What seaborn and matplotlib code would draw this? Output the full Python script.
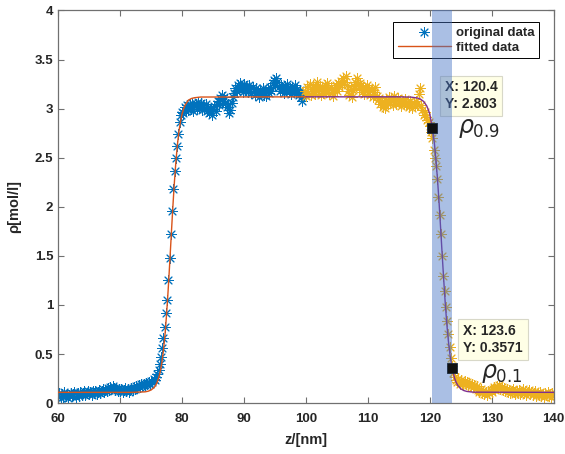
import matplotlib
matplotlib.use('Agg')
import matplotlib.pyplot as plt
import numpy as np
import pandas as pd
import seaborn as sns

# original data, left part (blue)
z_blue_a = np.linspace(60.0, 76.0, 81)
rho_blue_a = [0.07, 0.10, 0.05, 0.09, 0.06, 0.11, 0.07, 0.09, 0.05, 0.08,
              0.10, 0.07, 0.09, 0.11, 0.06, 0.09, 0.10, 0.07, 0.11, 0.08,
              0.10, 0.12, 0.08, 0.10, 0.12, 0.09, 0.11, 0.08, 0.12, 0.10,
              0.12, 0.09, 0.11, 0.13, 0.10, 0.12, 0.14, 0.11, 0.13, 0.12,
              0.15, 0.13, 0.16, 0.14, 0.17, 0.15, 0.13, 0.15, 0.12, 0.14,
              0.12, 0.14, 0.11, 0.13, 0.15, 0.12, 0.14, 0.11, 0.13, 0.15,
              0.13, 0.16, 0.14, 0.17, 0.15, 0.18, 0.16, 0.19, 0.17, 0.20,
              0.18, 0.21, 0.19, 0.22, 0.20, 0.23, 0.22, 0.25, 0.24, 0.27,
              0.30]
z_blue_b = np.linspace(76.2, 80.0, 20)
rho_blue_b = [0.34, 0.40, 0.47, 0.56, 0.66, 0.78, 0.92, 1.05, 1.25, 1.48,
              1.72, 1.96, 2.18, 2.36, 2.50, 2.62, 2.74, 2.86, 2.93, 2.97]
z_blue_c = np.linspace(80.2, 99.6, 98)
rho_blue_c = [2.96, 3.02, 2.98, 3.04, 2.99, 3.05, 3.00, 3.06, 2.98, 3.03,
              3.05, 3.00, 3.07, 3.02, 3.06, 2.99, 3.04, 3.01, 3.05, 2.98,
              3.02, 2.96, 2.99, 2.94, 3.00, 3.03, 2.98, 3.05, 3.08, 3.04,
              3.11, 3.14, 3.08, 3.12, 3.06, 3.02, 3.05, 2.96, 2.99, 3.06,
              3.12, 3.16, 3.21, 3.18, 3.24, 3.20, 3.26, 3.22, 3.17, 3.25,
              3.19, 3.23, 3.17, 3.24, 3.20, 3.16, 3.22, 3.18, 3.14, 3.21,
              3.16, 3.12, 3.19, 3.15, 3.21, 3.14, 3.18, 3.13, 3.20, 3.16,
              3.22, 3.18, 3.26, 3.29, 3.24, 3.31, 3.27, 3.22, 3.18, 3.24,
              3.20, 3.16, 3.23, 3.19, 3.25, 3.17, 3.21, 3.15, 3.22, 3.18,
              3.24, 3.16, 3.20, 3.14, 3.19, 3.12, 3.08, 3.15]

# original data, right part (orange)
z_orange_a = np.linspace(99.8, 119.6, 100)
rho_orange_a = [3.18, 3.13, 3.22, 3.16, 3.25, 3.14, 3.20, 3.24, 3.15, 3.21,
                3.27, 3.18, 3.23, 3.14, 3.20, 3.16, 3.24, 3.19, 3.26, 3.21,
                3.15, 3.22, 3.17, 3.13, 3.20, 3.24, 3.18, 3.26, 3.22, 3.28,
                3.25, 3.31, 3.27, 3.33, 3.24, 3.18, 3.14, 3.20, 3.12, 3.19,
                3.23, 3.27, 3.31, 3.25, 3.21, 3.26, 3.17, 3.22, 3.15, 3.20,
                3.24, 3.17, 3.21, 3.14, 3.19, 3.12, 3.17, 3.22, 3.13, 3.09,
                3.11, 3.05, 3.08, 3.02, 3.06, 3.01, 3.09, 3.05, 3.12, 3.07,
                3.10, 3.04, 3.13, 3.08, 3.05, 3.11, 3.06, 3.09, 3.03, 3.08,
                3.05, 3.10, 3.04, 3.07, 3.02, 3.08, 3.05, 3.01, 3.06, 3.03,
                3.08, 3.05, 3.15, 3.21, 3.04, 2.99, 2.94, 2.97, 2.91, 2.88]
z_orange_b = np.linspace(119.8, 124.2, 23)
rho_orange_b = [2.86, 2.82, 2.76, 2.70, 2.58, 2.50, 2.42, 2.28, 2.10, 1.92,
                1.72, 1.50, 1.30, 1.14, 0.98, 0.84, 0.70, 0.57, 0.46, 0.38,
                0.31, 0.27, 0.24]
z_orange_c = np.linspace(124.4, 140.0, 79)
rho_orange_c = [0.22, 0.25, 0.20, 0.24, 0.21, 0.19, 0.23, 0.20, 0.22, 0.18,
                0.21, 0.17, 0.20, 0.16, 0.18, 0.14, 0.17, 0.13, 0.11, 0.14,
                0.10, 0.12, 0.09, 0.11, 0.08, 0.12, 0.10, 0.13, 0.11, 0.14,
                0.16, 0.13, 0.17, 0.15, 0.18, 0.14, 0.16, 0.13, 0.15, 0.12,
                0.14, 0.11, 0.13, 0.10, 0.12, 0.14, 0.11, 0.09, 0.12, 0.10,
                0.13, 0.09, 0.11, 0.14, 0.10, 0.12, 0.08, 0.11, 0.13, 0.09,
                0.11, 0.08, 0.10, 0.12, 0.07, 0.10, 0.08, 0.11, 0.07, 0.09,
                0.06, 0.10, 0.08, 0.11, 0.07, 0.09, 0.06, 0.10, 0.08]

# fitted curves
fit_z_left = [60, 72, 74, 74.5, 75, 75.5, 75.75, 76, 76.25, 76.5, 76.75, 77,
              77.25, 77.5, 77.75, 78, 78.25, 78.5, 78.75, 79, 79.25, 79.5,
              79.75, 80, 80.25, 80.5, 81, 81.5, 82, 83, 100]
fit_rho_left = [0.11, 0.11, 0.115, 0.121, 0.134, 0.16, 0.183, 0.216, 0.262,
                0.328, 0.419, 0.542, 0.703, 0.906, 1.149, 1.42, 1.707, 1.987,
                2.241, 2.458, 2.634, 2.771, 2.868, 2.946, 2.999, 3.037, 3.085,
                3.103, 3.111, 3.118, 3.12]
fit_z_right = [100, 115, 117, 118, 118.5, 119, 119.5, 119.75, 120, 120.4,
               120.75, 121, 121.25, 121.5, 121.75, 122, 122.25, 122.5, 122.75,
               123, 123.3, 123.6, 124, 124.25, 124.5, 125, 125.5, 126, 127, 140]
fit_rho_right = [3.12, 3.12, 3.117, 3.108, 3.096, 3.073, 3.028, 2.99, 2.943,
                 2.803, 2.640, 2.471, 2.271, 2.037, 1.775, 1.508, 1.250, 1.009,
                 0.802, 0.630, 0.471, 0.356, 0.254, 0.212, 0.183, 0.146, 0.128,
                 0.119, 0.112, 0.11]

# data tips
tip_z = [120.4, 123.6]
tip_rho = [2.803, 0.3571]
tip_text = ['X: 120.4\nY: 2.803', 'X: 123.6\nY: 0.3571']

blue = pd.DataFrame({'z': np.concatenate([z_blue_a, z_blue_b, z_blue_c]),
                     'rho': rho_blue_a + rho_blue_b + rho_blue_c})
orange = pd.DataFrame({'z': np.concatenate([z_orange_a, z_orange_b, z_orange_c]),
                       'rho': rho_orange_a + rho_orange_b + rho_orange_c})
fit_left = pd.DataFrame({'z': fit_z_left, 'rho': fit_rho_left})
fit_right = pd.DataFrame({'z': fit_z_right, 'rho': fit_rho_right})
tips = pd.DataFrame({'z': tip_z, 'rho': tip_rho})

sns.set_style('ticks')
plt.rcParams['font.family'] = ['Liberation Sans', 'DejaVu Sans']
plt.rcParams['mathtext.fontset'] = 'dejavusans'

fig, ax = plt.subplots(figsize=(5.65, 4.54), dpi=100)
fig.subplots_adjust(left=0.103, right=0.980, bottom=0.112, top=0.977)

star = (8, 2, 0)
sns.scatterplot(data=blue, x='z', y='rho', marker=star, s=50, color='#0072BD',
                linewidth=0.7, label='original data', ax=ax, zorder=2)
sns.scatterplot(data=orange, x='z', y='rho', marker=star, s=50, color='#EDB120',
                linewidth=0.7, ax=ax, zorder=2)
sns.lineplot(data=fit_left, x='z', y='rho', color='#D95319', lw=1.0,
             label='fitted data', ax=ax, zorder=3)
sns.lineplot(data=fit_right, x='z', y='rho', color='#7E2F8E', lw=1.0, ax=ax, zorder=3)

ax.set_xlim(60, 140)
ax.set_ylim(0, 4)
ax.set_xticks(range(60, 141, 10))
ax.set_yticks([0, 0.5, 1, 1.5, 2, 2.5, 3, 3.5, 4])
ax.set_yticklabels(['0', '0.5', '1', '1.5', '2', '2.5', '3', '3.5', '4'])
ax.tick_params(direction='in', top=True, right=True, length=4, width=0.8,
               color='#707070', labelsize=9.5, labelcolor='#262626')
ax.tick_params(axis='x', pad=7)
for lab in ax.get_xticklabels() + ax.get_yticklabels():
    lab.set_fontweight('bold')
for sp in ax.spines.values():
    sp.set_color('#707070')
    sp.set_linewidth(0.9)

h, l = ax.get_legend_handles_labels()
leg = ax.legend(h, l, loc='upper right', bbox_to_anchor=(0.9705, 0.9707),
                borderaxespad=0, fancybox=False, edgecolor='black', framealpha=1,
                prop={'weight': 'bold', 'size': 9.5}, handlelength=4.0,
                handletextpad=0.4, labelspacing=0.2, borderpad=0.35, scatterpoints=1)
leg.get_frame().set_linewidth(0.7)
leg.set_zorder(4)

# data tip boxes
ax.text(122.4, 3.13, tip_text[0], fontsize=10, fontweight='bold', color='#262626',
        va='center', ha='left', linespacing=1.25, zorder=5,
        bbox=dict(boxstyle='square,pad=0.35', fc='#FFFFE6', ec='#D8D8C8', lw=0.8))
ax.text(125.4, 0.65, tip_text[1], fontsize=10, fontweight='bold', color='#262626',
        va='center', ha='left', linespacing=1.25, zorder=5,
        bbox=dict(boxstyle='square,pad=0.35', fc='#FFFFE6', ec='#D8D8C8', lw=0.8))

# selected interface band
ax.axvspan(120.4, 123.6, color='#4472C4', alpha=0.45, lw=0, zorder=6)

sns.scatterplot(data=tips, x='z', y='rho', marker='s', s=60, color='#111111',
                edgecolor='#1a2a40', linewidth=0.6, ax=ax, zorder=7, legend=False)
ax.set_xlabel('z/[nm]', fontsize=10.5, fontweight='bold', color='#262626', labelpad=5.5)
ax.set_ylabel('ρ[mol/l]', fontsize=10.5, fontweight='bold', color='#262626', labelpad=9.5)

ax.text(124.5, 2.80, r'$\rho_{0.9}$', fontsize=17, va='center', ha='left', zorder=7)
ax.text(128.2, 0.30, r'$\rho_{0.1}$', fontsize=17, va='center', ha='left', zorder=7)

plt.savefig('out.png', dpi=100)
